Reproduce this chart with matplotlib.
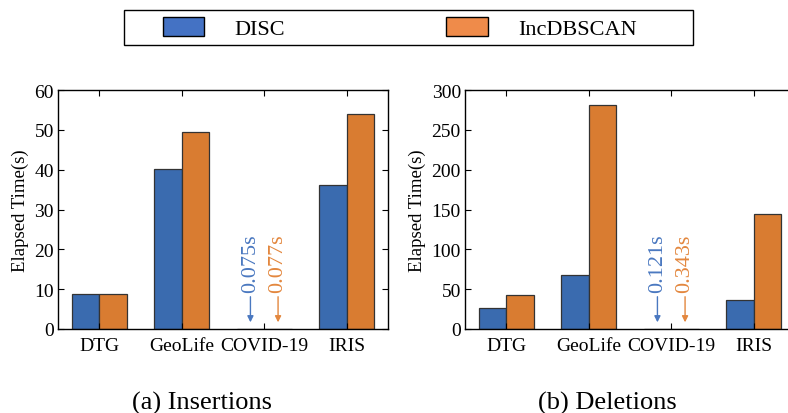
import matplotlib
matplotlib.use("Agg")
import matplotlib.pyplot as plt
from matplotlib.patches import Patch, Rectangle
import numpy as np

plt.rcParams['font.family'] = ['Liberation Serif', 'DejaVu Serif']

categories = ["DTG", "GeoLife", "COVID-19", "IRIS"]
series_names = ["DISC", "IncDBSCAN"]
ins_disc = [8.7, 40.1, 0.075, 36.2]
ins_inc = [8.9, 49.4, 0.077, 54.0]
del_disc = [26.3, 67.8, 0.121, 36.4]
del_inc = [43.0, 281.5, 0.343, 144.8]
ins_ticks = [0, 10, 20, 30, 40, 50, 60]
del_ticks = [0, 50, 100, 150, 200, 250, 300]
ins_notes = ["0.075s", "0.077s"]
del_notes = ["0.121s", "0.343s"]
captions = ["(a) Insertions", "(b) Deletions"]

bar_colors = ["#3A6BAF", "#D97C31"]
legend_colors = ["#4472C4", "#EF8B4A"]
note_colors = ["#4A78C0", "#E3873E"]

W, H = 788, 414
fig = plt.figure(figsize=(W/100, H/100), dpi=100)
ax1 = fig.add_axes([58/W, 1-330/H, 330/W, 239/H])
ax2 = fig.add_axes([465/W, 1-330/H, 330/W, 239/H])

w = 0.335
x = np.arange(len(categories))

def draw(ax, d, i, ticks, notes):
    ax.bar(x - w/2, d, w, color=bar_colors[0], edgecolor="#333333", linewidth=0.9)
    ax.bar(x + w/2, i, w, color=bar_colors[1], edgecolor="#333333", linewidth=0.9)
    ax.set_xlim(-0.5, 3.5)
    ax.set_ylim(ticks[0], ticks[-1])
    ax.set_yticks(ticks)
    ax.set_xticks(x)
    ax.set_xticklabels(categories, fontsize=14)
    ax.tick_params(axis='y', labelsize=14, pad=3)
    ax.tick_params(axis='x', pad=6)
    ax.tick_params(direction='in', top=True, right=True, length=4, width=0.8)
    ax.set_ylabel("Elapsed Time(s)", fontsize=13.5, labelpad=4)
    for s in ax.spines.values():
        s.set_linewidth(1.0)
    top = ticks[-1]
    for k, off in enumerate([-w/2, w/2]):
        xc = 2 + off
        ax.annotate("", xy=(xc, 0.028*top), xytext=(xc, 0.135*top),
                    arrowprops=dict(arrowstyle="-|>", color=note_colors[k], lw=1.0,
                                    mutation_scale=9, shrinkA=0, shrinkB=0))
        ax.text(xc, 0.155*top, notes[k], rotation=90, ha='center', va='bottom',
                color=note_colors[k], fontsize=16)

draw(ax1, ins_disc, ins_inc, ins_ticks, ins_notes)
draw(ax2, del_disc, del_inc, del_ticks, del_notes)

fig.text(202/W, 1-403/H, captions[0], ha='center', va='center', fontsize=19)
fig.text(607/W, 1-403/H, captions[1], ha='center', va='center', fontsize=19)

# legend
frame = Rectangle((124/W, 1-45.7/H), (693-124)/W, 35/H, transform=fig.transFigure,
                  facecolor='white', edgecolor='black', linewidth=1.0)
fig.patches.append(frame)
handles = [Patch(facecolor=legend_colors[0], edgecolor="black", linewidth=1.0),
           Patch(facecolor=legend_colors[1], edgecolor="black", linewidth=1.0)]
leg = fig.legend(handles, series_names, loc='center left', bbox_to_anchor=(162.7/W, 1-29/H),
                 ncol=2, frameon=False, fontsize=16,
                 handlelength=1.87, handleheight=0.98, handletextpad=1.34, columnspacing=7.28,
                 borderpad=0, borderaxespad=0)

fig.savefig("out.png", dpi=100)
